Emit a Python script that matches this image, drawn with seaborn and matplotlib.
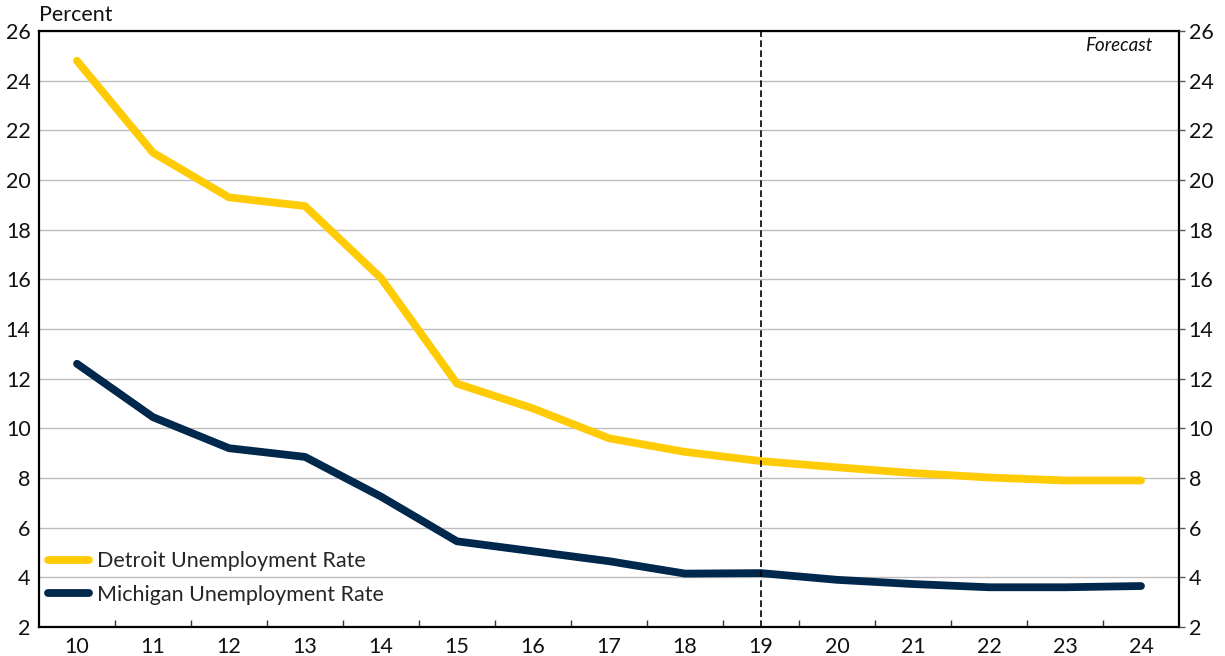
import matplotlib
matplotlib.use("Agg")
import matplotlib.pyplot as plt
import seaborn as sns
import pandas as pd
import numpy as np

years = [10, 11, 12, 13, 14, 15, 16, 17, 18, 19, 20, 21, 22, 23, 24]
detroit = [24.8, 21.1, 19.3, 18.95, 16.05, 11.8, 10.8, 9.6, 9.05, 8.68, 8.43, 8.2, 8.02, 7.9, 7.9]
michigan = [12.6, 10.45, 9.2, 8.85, 7.25, 5.45, 5.05, 4.65, 4.15, 4.17, 3.9, 3.73, 3.6, 3.6, 3.65]
series_names = ["Detroit Unemployment Rate", "Michigan Unemployment Rate"]
forecast_start = 19
yticks = list(range(2, 27, 2))

sns.set_theme(style="white")
plt.rcParams['font.family'] = ['Lato', 'DejaVu Sans']

df = pd.DataFrame({
    "year": years * 2,
    "rate": detroit + michigan,
    "series": [series_names[0]] * len(years) + [series_names[1]] * len(years),
})

FS = 15.5
fig = plt.figure(figsize=(12.25, 6.56), dpi=100)
ax = fig.add_axes([39/1225, 1 - 627/656, (1179-39)/1225, (627-31)/656])

palette = {series_names[0]: "#FFCB05", series_names[1]: "#00274C"}
sns.lineplot(data=df, x="year", y="rate", hue="series", palette=palette,
             linewidth=5.6, ax=ax, solid_capstyle="round", solid_joinstyle="round",
             zorder=3)

ax.set_xlim(years[0] - 0.5, years[-1] + 0.5)
ax.set_ylim(2, 26)
ax.set_yticks(yticks)
ax.set_xticks(years)
ax.set_xticks([y + 0.5 for y in years[:-1]], minor=True)
ax.set_xticklabels([str(y) for y in years], fontsize=FS)
ax.set_yticklabels([str(t) for t in yticks], fontsize=FS)
ax.tick_params(axis="x", which="major", length=0, pad=7, colors="#111111")
ax.tick_params(axis="x", which="minor", length=5, direction="in", width=1, color="#333333", bottom=True)
ax.tick_params(axis="y", which="major", length=0, pad=6, colors="#111111")
ax.set_xlabel("")
ax.set_ylabel("")
ax.yaxis.grid(True, color="#BDBDBD", linewidth=1.0, zorder=0)
ax.xaxis.grid(False)
for s in ax.spines.values():
    s.set_color("black")
    s.set_linewidth(1.6)

ax2 = ax.twinx()
ax2.set_ylim(2, 26)
ax2.set_yticks(yticks)
ax2.set_yticklabels([str(t) for t in yticks], fontsize=FS)
ax2.tick_params(axis="y", length=4, width=1, direction="out", pad=3, colors="#111111", color="#555555")
ax2.grid(False)
for s in ax2.spines.values():
    s.set_visible(False)

ax.axvline(forecast_start, color="black", linestyle=(0, (4, 2)), linewidth=1.2, zorder=4)
ax.text(0.977, 0.99, "Forecast", transform=ax.transAxes, ha="right", va="top",
        fontsize=13.5, style="italic", color="#111111")
fig.text(39/1225, 1 - 15/656, "Percent", ha="left", va="center", fontsize=FS, color="#111111")

leg = ax.legend(loc="lower left", frameon=False, fontsize=FS, handlelength=1.9,
                borderaxespad=0.0, labelspacing=0.62, handletextpad=0.4,
                bbox_to_anchor=(0.0, 0.023))
for line in leg.get_lines():
    line.set_linewidth(5.6)
    line.set_solid_capstyle("round")

fig.savefig("out.png", dpi=100)
